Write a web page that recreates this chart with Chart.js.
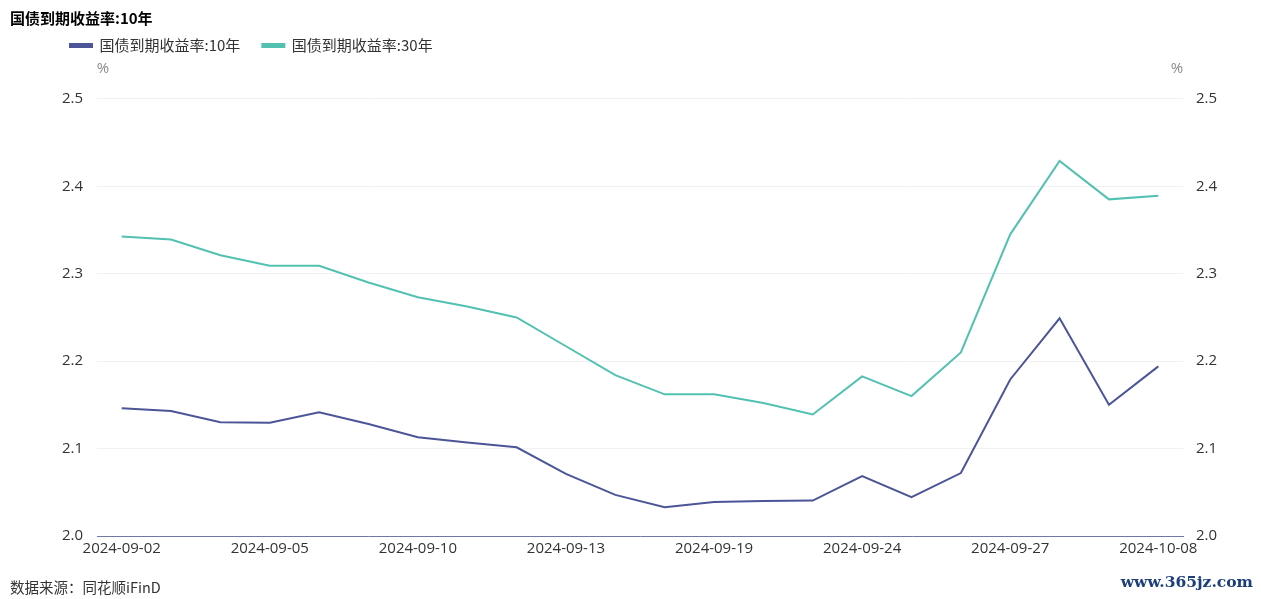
<!DOCTYPE html>
<html>
<head>
<meta charset="utf-8">
<script src="https://cdn.jsdelivr.net/npm/chart.js@4.4.1/dist/chart.umd.min.js"></script>
<style>
  html, body { margin: 0; padding: 0; background: #fff; }
  body { width: 1261px; height: 599px; position: relative; overflow: hidden; font-family: "Open Sans", "Noto Sans CJK SC", sans-serif; }
  #wrap { position: absolute; left: 0; top: 0; width: 1261px; height: 599px; }
  #title { position: absolute; left: 10px; top: 7px; font-size: 15px; font-weight: bold; color: #000; white-space: nowrap; font-family: "Noto Sans CJK SC", sans-serif; }
  #source { position: absolute; left: 10px; top: 576px; font-size: 14.5px; color: #333; white-space: nowrap; font-family: "Noto Sans CJK SC", sans-serif; }
  #mark { position: absolute; right: 8px; top: 572px; font-size: 15.5px; font-weight: bold; color: #1c3f7c; font-family: "DejaVu Serif", serif; white-space: nowrap; }
</style>
</head>
<body>
<div id="wrap"><canvas id="c" width="1261" height="599"></canvas></div>
<div id="title">国债到期收益率:10年</div>
<div id="source">数据来源：同花顺iFinD</div>
<div id="mark">www.365jz.com</div>
<script>
const categories = ["2024-09-02","2024-09-03","2024-09-04","2024-09-05","2024-09-06","2024-09-09","2024-09-10","2024-09-11","2024-09-12","2024-09-13","2024-09-14","2024-09-18","2024-09-19","2024-09-20","2024-09-23","2024-09-24","2024-09-25","2024-09-26","2024-09-27","2024-09-29","2024-09-30","2024-10-08"];
const yield10 = [2.146,2.143,2.130,2.1295,2.1415,2.128,2.113,2.107,2.1015,2.071,2.047,2.033,2.039,2.040,2.0405,2.0685,2.0445,2.072,2.179,2.249,2.150,2.194];
const yield30 = [2.3425,2.339,2.321,2.309,2.309,2.290,2.273,2.2625,2.250,2.217,2.184,2.162,2.162,2.152,2.139,2.1825,2.160,2.210,2.345,2.429,2.385,2.389];
const seriesNames = ["国债到期收益率:10年","国债到期收益率:30年"];
const yTicks = [2.0, 2.1, 2.2, 2.3, 2.4, 2.5];

const FONT = '"Open Sans", "Noto Sans CJK SC", sans-serif';

const unitPlugin = {
  id: 'unit',
  afterDraw(chart) {
    const ctx = chart.ctx, a = chart.chartArea;
    ctx.save();
    ctx.font = '15px ' + FONT;
    ctx.fillStyle = '#8a8a8a';
    ctx.textBaseline = 'middle';
    ctx.textAlign = 'center';
    ctx.fillText('%', a.left + 6, 69);
    ctx.fillText('%', a.right - 6, 69);
    ctx.restore();
  }
};

new Chart(document.getElementById('c'), {
  type: 'line',
  data: {
    labels: categories,
    datasets: [
      { label: seriesNames[0], data: yield10, borderColor: '#4b5597', backgroundColor: '#4b5597', borderWidth: 2, pointRadius: 0, tension: 0, yAxisID: 'y' },
      { label: seriesNames[1], data: yield30, borderColor: '#52c1b1', backgroundColor: '#52c1b1', borderWidth: 2, pointRadius: 0, tension: 0, yAxisID: 'y1' }
    ]
  },
  options: {
    responsive: false,
    animation: false,
    layout: { padding: { left: 48, right: 18, top: 16, bottom: 39 } },
    plugins: {
      legend: {
        display: true, position: 'top', align: 'start',
        labels: { boxWidth: 22, boxHeight: 3, padding: 22, color: '#333', font: { size: 15, family: '"Noto Sans CJK SC", sans-serif' } }
      },
      subtitle: { display: true, text: '', weight: 500, padding: { top: 0, bottom: 19 }, font: { size: 14 } },
      title: { display: false },
      tooltip: { enabled: false }
    },
    scales: {
      x: {
        offset: true,
        grid: { display: false, drawTicks: false },
        border: { display: true, color: '#6f79a8', width: 1 },
        ticks: {
          autoSkip: false, maxRotation: 0, minRotation: 0, padding: 4, color: '#333',
          font: { size: 15, family: FONT },
          callback: function(v, i) { return i % 3 === 0 ? categories[i] : ''; }
        },
        afterFit(s) { s.height = 24; }
      },
      y: {
        position: 'left', min: 2.0, max: 2.5,
        afterBuildTicks(s) { s.ticks = yTicks.map(v => ({ value: v })); },
        grid: { color: '#f0f0f5', drawTicks: false },
        border: { display: false },
        ticks: { padding: 14, color: '#333', font: { size: 15, family: FONT }, callback: v => v.toFixed(1) },
        afterFit(s) { s.width = 49; }
      },
      y1: {
        position: 'right', min: 2.0, max: 2.5,
        afterBuildTicks(s) { s.ticks = yTicks.map(v => ({ value: v })); },
        grid: { display: false, drawTicks: false },
        border: { display: false },
        ticks: { padding: 13, color: '#333', font: { size: 15, family: FONT }, callback: v => v.toFixed(1) },
        afterFit(s) { s.width = 60; }
      }
    }
  },
  plugins: [unitPlugin]
});
</script>
</body>
</html>
